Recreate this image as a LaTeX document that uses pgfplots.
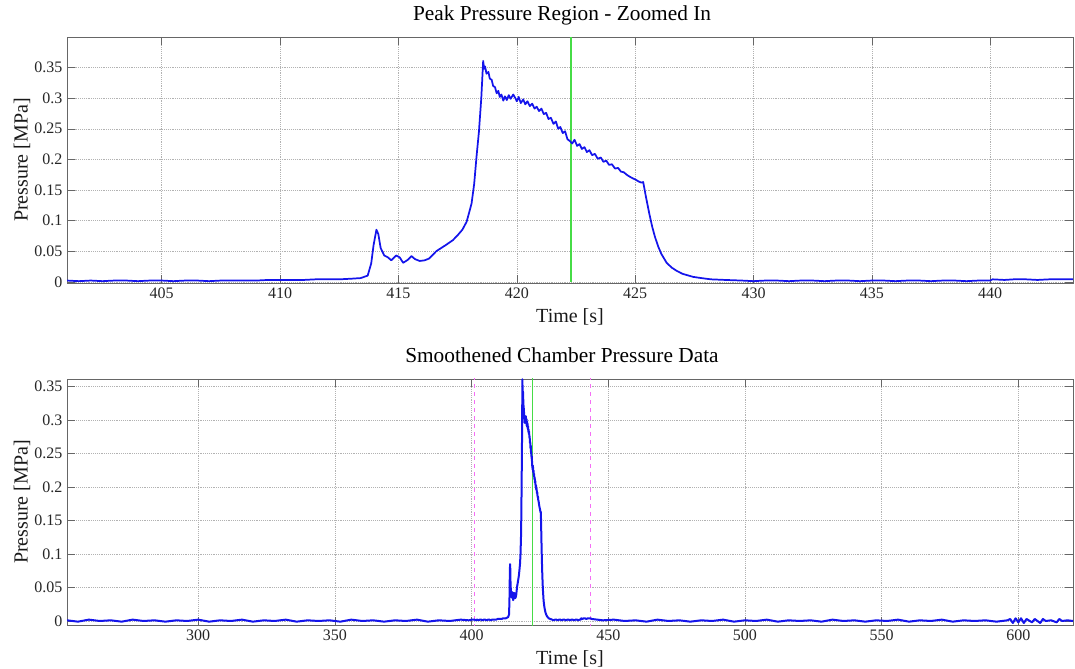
\documentclass[border=0pt]{standalone}
\usepackage{pgfplots}
\pgfplotsset{compat=1.18}
\usepackage{pgfplotstable}
\usepackage{fontspec}
\setmainfont{Liberation Serif}

\definecolor{curveblue}{RGB}{20,20,235}
\definecolor{lgreen}{RGB}{70,220,70}
\definecolor{lmag}{RGB}{245,110,245}

\pgfplotstableread{
t p
252 0.001
256 -0.001
260 0.002
264 0.000
268 0.001
272 -0.001
276 0.002
280 0.000
284 0.001
288 -0.001
292 0.001
296 0.000
300 0.002
304 -0.001
308 0.001
312 0.000
316 0.002
320 -0.001
324 0.001
328 0.000
332 0.002
336 -0.001
340 0.001
344 0.000
348 0.001
352 -0.001
356 0.002
360 0.000
364 0.001
368 -0.001
372 0.001
376 0.000
380 0.002
384 -0.001
388 0.001
392 0.000
396 0.002
399 0.001
400 0.002
401 0.002
401.5 0.001
402 0.002
402.5 0.001
403 0.002
403.5 0.002
404 0.001
404.5 0.002
405 0.002
405.5 0.001
406 0.002
406.5 0.002
407 0.001
407.5 0.002
408 0.002
408.5 0.002
409 0.002
409.5 0.003
410 0.003
410.5 0.003
411 0.003
411.5 0.004
412 0.004
412.5 0.004
413 0.005
413.4 0.006
413.7 0.010
413.85 0.030
413.95 0.060
414.07 0.085
414.15 0.078
414.25 0.055
414.4 0.043
414.55 0.040
414.7 0.035
414.9 0.043
415.05 0.040
415.2 0.031
415.4 0.036
415.55 0.042
415.7 0.037
415.9 0.034
416.1 0.035
416.3 0.038
416.6 0.050
417.0 0.060
417.3 0.068
417.5 0.076
417.7 0.085
417.88 0.098
418.0 0.115
418.09 0.128
418.2 0.160
418.3 0.205
418.4 0.245
418.5 0.300
418.58 0.361
418.62 0.348
418.66 0.352
418.72 0.340
418.8 0.343
418.86 0.332
418.94 0.330
419.0 0.320
419.08 0.318
419.15 0.308
419.22 0.312
419.28 0.302
419.35 0.306
419.43 0.296
419.5 0.303
419.58 0.297
419.66 0.305
419.74 0.299
419.85 0.306
419.94 0.300
420.0 0.295
420.08 0.302
420.17 0.292
420.27 0.298
420.36 0.290
420.45 0.295
420.55 0.287
420.65 0.291
420.75 0.283
420.84 0.286
420.94 0.279
421.04 0.283
421.14 0.274
421.24 0.276
421.34 0.266
421.44 0.268
421.55 0.258
421.65 0.262
421.75 0.250
421.84 0.253
421.94 0.243
422.04 0.246
422.14 0.233
422.24 0.230
422.34 0.226
422.44 0.232
422.55 0.222
422.65 0.225
422.75 0.217
422.86 0.220
422.96 0.212
423.07 0.215
423.18 0.207
423.3 0.209
423.42 0.201
423.55 0.203
423.66 0.196
423.78 0.198
423.9 0.191
424.02 0.192
424.15 0.185
424.28 0.186
424.4 0.180
424.52 0.179
424.64 0.175
424.76 0.172
424.9 0.169
425.02 0.167
425.14 0.164
425.27 0.162
425.34 0.163
425.45 0.140
425.6 0.111
425.72 0.090
425.84 0.073
425.97 0.058
426.1 0.046
426.33 0.031
426.55 0.023
426.75 0.018
427.0 0.013
427.45 0.008
427.8 0.006
428.2 0.004
428.8 0.003
429.5 0.002
430 0.001
430.5 0.002
431 0.002
431.5 0.001
432 0.002
432.5 0.002
433 0.001
433.5 0.002
434 0.002
434.5 0.001
435 0.002
435.5 0.002
436 0.001
436.5 0.002
437 0.002
437.5 0.001
438 0.002
438.5 0.002
439 0.001
439.5 0.002
440 0.002
440.1 0.004
440.6 0.003
441 0.004
441.5 0.004
442 0.003
442.5 0.004
443 0.004
443.5 0.004
444 0.003
448 0.001
452 0.002
456 0.000
460 0.001
464 -0.001
468 0.002
472 0.000
476 0.001
480 -0.001
484 0.001
488 0.000
492 0.002
496 -0.001
500 0.001
504 0.000
508 0.002
512 -0.001
516 0.001
520 0.000
524 0.001
528 -0.001
532 0.002
536 0.000
540 0.001
544 -0.001
548 0.001
552 0.000
556 0.002
560 -0.001
564 0.001
568 0.000
572 0.002
576 -0.001
580 0.001
584 0.000
588 0.001
592 -0.001
596 0.001
597 0.003
598 -0.003
599 0.004
600 -0.002
601 0.004
602 -0.003
603 0.003
605 -0.002
606 0.003
607 0.000
608 -0.003
609 0.003
610 0.000
612 0.001
614 -0.002
615 0.003
616 0.000
618 0.001
620 0.000
}\pressure

\pgfplotsset{
  mystyle/.style={
    scale only axis, width=754.5pt, height=184.5pt, anchor=south west,
    tick align=inside, major tick length=6pt,
    grid=major, major grid style={densely dotted, black!30},
    axis line style={black!60}, every tick/.style={black!60},
    tick label style={font=\fontsize{12}{14}\selectfont, text=black!85},
    label style={font=\fontsize{15}{18}\selectfont, text=black!90},
    /pgf/number format/assume math mode=true,
    yticklabel style={/pgf/number format/.cd, fixed, precision=2},
    xticklabel style={/pgf/number format/.cd, fixed, 1000 sep={}},
    ytick={0,0.05,0.1,0.15,0.2,0.25,0.3,0.35},
    ylabel={Pressure [MPa]},
    xlabel={Time [s]},
    ylabel style={at={(axis description cs:-0.0447,0.5)}, anchor=center},
    xlabel style={at={(axis description cs:0.5,0)}, anchor=center, yshift=-25.5pt},
  }
}

\begin{document}
\begin{tikzpicture}
\useasboundingbox (0pt,0pt) rectangle (806.25pt,501pt);

\begin{axis}[mystyle, at={(50.25pt,288.75pt)},
  xmin=401, xmax=443.5, ymin=-0.002, ymax=0.4,
  xtick={405,410,415,420,425,430,435,440},
  title={Peak Pressure Region - Zoomed In},
  title style={font=\fontsize{16}{19}\selectfont, at={(axis description cs:0.492,1)}, anchor=center, yshift=10.5pt},
]
\addplot[color=lgreen, line width=1.2pt] coordinates {(422.3,0) (422.3,0.4)};
\addplot[curveblue, line width=1.3pt, line join=round] table[x=t,y=p] {\pressure};
\end{axis}

\begin{axis}[mystyle, at={(50.25pt,32.25pt)},
  xmin=252, xmax=620, ymin=-0.006, ymax=0.3615,
  xtick={300,350,400,450,500,550,600},
  title={Smoothened Chamber Pressure Data},
  title style={font=\fontsize{16}{19}\selectfont, at={(axis description cs:0.492,1)}, anchor=center, yshift=12pt},
]
\addplot[lmag, dashed, line width=0.8pt] coordinates {(401,-0.01) (401,0.37)};
\addplot[lmag, dashed, line width=0.8pt] coordinates {(443.5,-0.01) (443.5,0.37)};
\addplot[color=lgreen, line width=1pt] coordinates {(422.3,-0.01) (422.3,0.37)};
\addplot[curveblue, line width=1.5pt, line join=round] table[x=t,y=p] {\pressure};
\end{axis}
\end{tikzpicture}
\end{document}
